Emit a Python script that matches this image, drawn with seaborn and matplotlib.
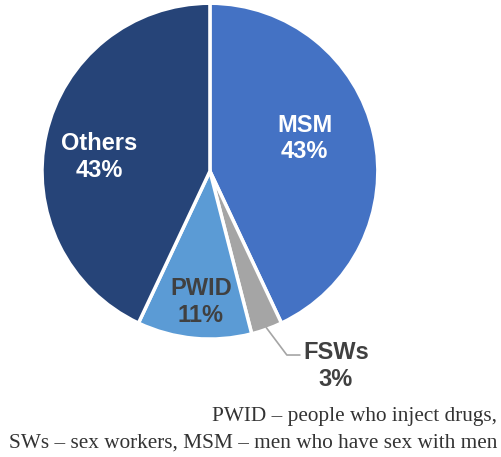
import numpy as np
import matplotlib
matplotlib.use("Agg")
import matplotlib.pyplot as plt
import seaborn as sns

groups = ["MSM", "FSWs", "PWID", "Others"]
shares = [43, 3, 11, 43]
colors = ["#4472C4", "#A5A5A5", "#5B9BD5", "#264478"]
footnote = ["PWID \u2013 people who inject drugs,",
            "SWs \u2013 sex workers, MSM \u2013 men who have sex with men"]

sns.set_theme(style="white")
plt.rcParams['font.family'] = ['Liberation Sans', 'DejaVu Sans']

fig = plt.figure(figsize=(5.02, 4.57), dpi=100)
ax = fig.add_axes([0.0837, 0.258, 0.669, 0.735])

wedges, _ = ax.pie(shares, colors=colors, startangle=90, counterclock=False,
                   wedgeprops=dict(edgecolor="white", linewidth=2.5))
ax.set_xlim(-1.0, 1.0)
ax.set_ylim(-1.0, 1.0)
ax.set_aspect("equal")
ax.axis("off")

# label positions (data units, pie radius = 1)
label_pos = {"MSM": (0.565, 0.193), "PWID": (-0.054, -0.78),
             "Others": (-0.661, 0.083)}
for w, name, val in zip(wedges, groups, shares):
    mid = np.deg2rad((w.theta1 + w.theta2) / 2)
    if name in label_pos:
        x, y = label_pos[name]
        tc = "white" if name != "PWID" else "#404040"
        ax.text(x, y, f"{name}\n{val}%",
                ha="center", va="center", color=tc, fontsize=17,
                fontweight="bold", linespacing=1.19)
    else:
        x0, y0 = 0.99 * np.cos(mid), 0.99 * np.sin(mid)
        ax.plot([x0, 0.458, 0.536], [y0, -1.095, -1.095], color="#A5A5A5",
                lw=1.2, clip_on=False)
        ax.text(0.75, -1.16, f"{name}\n{val}%", ha="center", va="center",
                color="#404040", fontsize=17, fontweight="bold",
                linespacing=1.19)

fig.text(0.99, 1 - 416 / 457, footnote[0], ha="right", va="center",
         fontsize=15.3, family=["Liberation Serif"], color="#333333")
fig.text(0.99, 1 - 443 / 457, footnote[1], ha="right", va="center",
         fontsize=15.3, family=["Liberation Serif"], color="#333333")

plt.savefig("out.png", dpi=100)
